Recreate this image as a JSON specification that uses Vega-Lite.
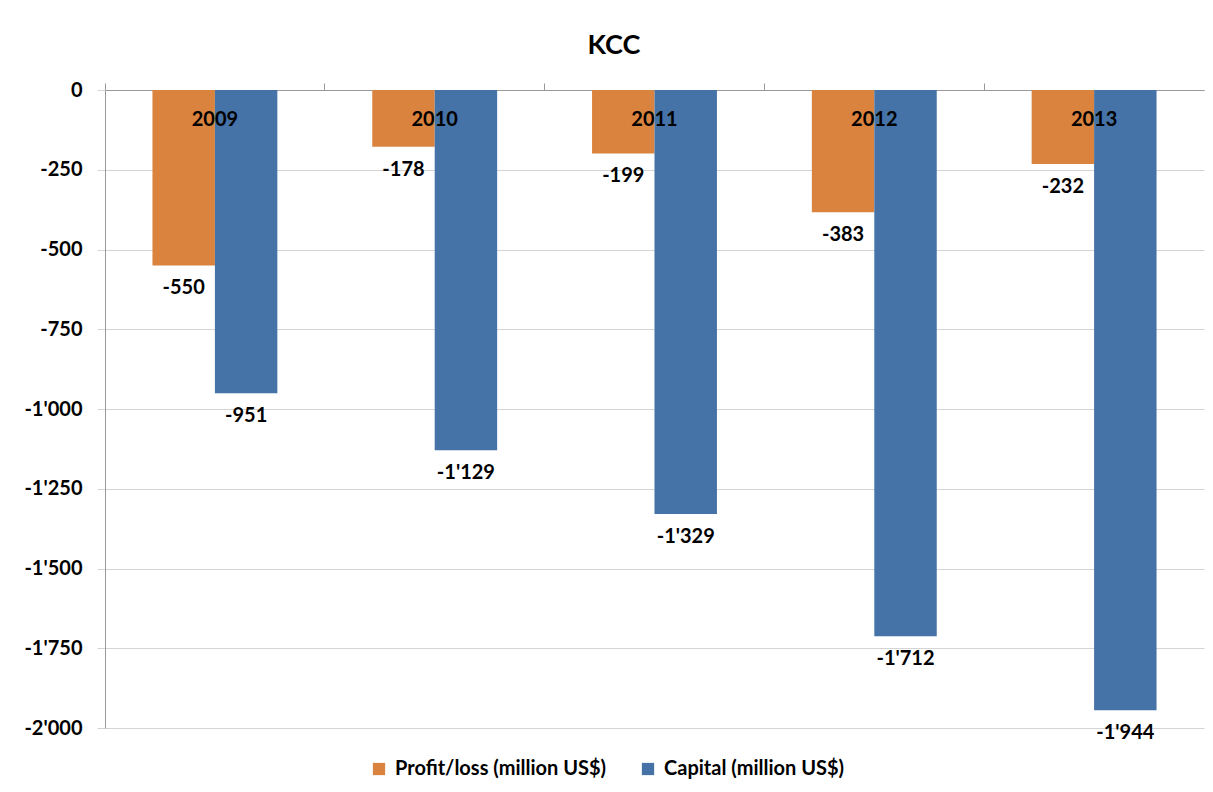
{
  "$schema": "https://vega.github.io/schema/vega-lite/v6.json",
  "width": 1099,
  "height": 638,
  "autosize": {"type": "none"},
  "padding": {"left": 105, "top": 90, "right": 9, "bottom": 64},
  "background": "white",
  "title": {"text": "KCC", "font": "Lato", "fontSize": 27, "fontWeight": "bold", "color": "black", "frame": "bounds", "anchor": "middle", "offset": 20},
  "config": {
    "locale": {"number": {"decimal": ".", "thousands": "'", "grouping": [3], "currency": ["$", ""], "minus": "-"}},
    "view": {"stroke": null},
    "font": "Lato"
  },
  "data": {
    "values": [
      {"year": "2009", "series": "Profit/loss (million US$)", "value": -550},
      {"year": "2009", "series": "Capital (million US$)", "value": -951},
      {"year": "2010", "series": "Profit/loss (million US$)", "value": -178},
      {"year": "2010", "series": "Capital (million US$)", "value": -1129},
      {"year": "2011", "series": "Profit/loss (million US$)", "value": -199},
      {"year": "2011", "series": "Capital (million US$)", "value": -1329},
      {"year": "2012", "series": "Profit/loss (million US$)", "value": -383},
      {"year": "2012", "series": "Capital (million US$)", "value": -1712},
      {"year": "2013", "series": "Profit/loss (million US$)", "value": -232},
      {"year": "2013", "series": "Capital (million US$)", "value": -1944}
    ]
  },
  "encoding": {
    "x": {"field": "year", "type": "nominal", "scale": {"paddingInner": 0, "paddingOuter": 0},
      "axis": {"orient": "top", "labels": false, "title": null, "bandPosition": 0, "tickSize": 7, "tickColor": "#999999", "domainColor": "#999999", "grid": false}}
  },
  "layer": [
    {
      "mark": {"type": "bar"},
      "encoding": {
        "xOffset": {"field": "series", "type": "nominal", "sort": ["Profit/loss (million US$)", "Capital (million US$)"], "scale": {"paddingOuter": 0.76, "paddingInner": 0}},
        "y": {"field": "value", "type": "quantitative", "scale": {"domain": [-2000, 0], "nice": false},
          "axis": {"title": null, "values": [0, -250, -500, -750, -1000, -1250, -1500, -1750, -2000], "format": ",d", "labelFont": "Lato", "labelFontSize": 20, "labelFontWeight": "bold", "labelColor": "black", "labelPadding": 15, "tickSize": 8, "tickColor": "#d4d4d4", "domainColor": "#999999", "gridColor": "#d4d4d4"}},
        "color": {"field": "series", "type": "nominal", "sort": ["Profit/loss (million US$)", "Capital (million US$)"],
          "scale": {"domain": ["Profit/loss (million US$)", "Capital (million US$)"], "range": ["#DA833E", "#4572A7"]},
          "legend": {"orient": "none", "legendX": 264, "legendY": 669, "direction": "horizontal", "title": null, "symbolType": "square", "symbolSize": 150, "symbolStrokeWidth": 0, "labelFont": "Lato", "labelFontSize": 20, "labelFontWeight": "bold", "labelColor": "black", "labelLimit": 0, "labelOffset": 6, "columnPadding": 31}}
      }
    },
    {
      "mark": {"type": "text", "baseline": "middle", "dy": 23, "font": "Lato", "fontSize": 20, "fontWeight": "bold", "color": "black"},
      "encoding": {
        "xOffset": {"field": "series", "type": "nominal", "sort": ["Profit/loss (million US$)", "Capital (million US$)"]},
        "y": {"field": "value", "type": "quantitative"},
        "text": {"field": "value", "type": "quantitative", "format": ",d"}
      }
    },
    {
      "transform": [{"filter": "datum.series === 'Capital (million US$)'"}],
      "mark": {"type": "text", "baseline": "middle", "dy": 30, "font": "Lato", "fontSize": 20, "fontWeight": "bold", "color": "black"},
      "encoding": {
        "y": {"datum": 0, "type": "quantitative"},
        "text": {"field": "year", "type": "nominal"}
      }
    }
  ]
}
